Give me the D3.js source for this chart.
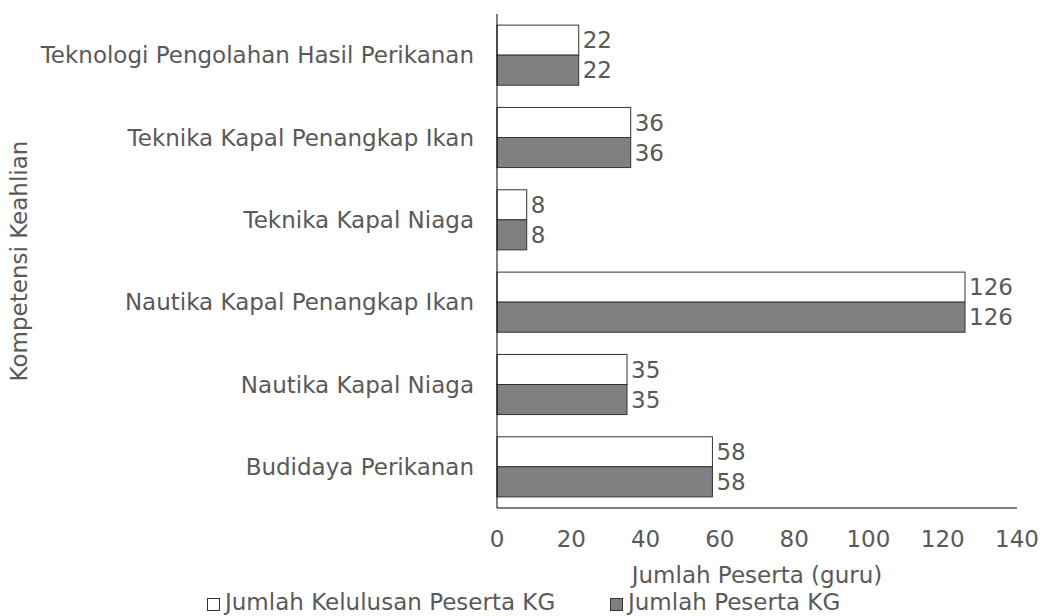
<!DOCTYPE html>
<html><head><meta charset="utf-8">
<script src="https://cdn.jsdelivr.net/npm/d3@7"></script>
<style>body{margin:0;background:#fff}svg text{font-family:"DejaVu Sans",Verdana,sans-serif;fill:#595959}</style>
</head><body>
<svg id="c" width="1040" height="616"></svg>
<script>
const categories = ["Teknologi Pengolahan Hasil Perikanan","Teknika Kapal Penangkap Ikan","Teknika Kapal Niaga","Nautika Kapal Penangkap Ikan","Nautika Kapal Niaga","Budidaya Perikanan"];
const seriesNames = ["Jumlah Kelulusan Peserta KG","Jumlah Peserta KG"];
const kelulusan = [22,36,8,126,35,58];
const peserta = [22,36,8,126,35,58];
const xTicks = [0,20,40,60,80,100,120,140];
const colors = ["#ffffff","#808080"];
const FS = 23;

const svg = d3.select("#c");
const pL = 497, pR = 1017, pT = 14, pB = 508;
const x = d3.scaleLinear().domain([0,140]).range([pL,pR]);
const y = d3.scaleBand().domain(categories).range([pT,pB]).paddingInner(0.27).paddingOuter(0.135);
const sub = d3.scaleBand().domain([0,1]).range([0,y.bandwidth()]);
const series = [kelulusan, peserta];

series.forEach((vals,si)=>{
  const g = svg.append("g");
  g.selectAll("rect").data(vals).join("rect")
    .attr("x", x(0)).attr("y",(d,i)=>y(categories[i])+sub(si))
    .attr("width", d=>x(d)-x(0)).attr("height", sub.bandwidth())
    .attr("fill", colors[si]).attr("stroke","#333").attr("stroke-width",1);
  g.selectAll("text").data(vals).join("text")
    .attr("x", d=>x(d)+4).attr("y",(d,i)=>y(categories[i])+sub(si)+sub.bandwidth()/2)
    .attr("dy","0.36em").attr("font-size",FS).text(d=>d);
});

svg.append("line").attr("x1",pL).attr("x2",pL).attr("y1",pT).attr("y2",pB).attr("stroke","#000").attr("stroke-width",1);
svg.append("line").attr("x1",pL).attr("x2",pR).attr("y1",pB).attr("y2",pB).attr("stroke","#000").attr("stroke-width",1);

svg.append("g").selectAll("text").data(categories).join("text")
  .attr("x", pL-23).attr("y", d=>y(d)+y.bandwidth()/2).attr("dy","0.36em")
  .attr("text-anchor","end").attr("font-size",FS).text(d=>d);

svg.append("g").selectAll("text").data(xTicks).join("text")
  .attr("x", d=>x(d)).attr("y", 547)
  .attr("text-anchor","middle").attr("font-size",FS).text(d=>d);

svg.append("text").attr("x",(pL+pR)/2).attr("y",583)
  .attr("text-anchor","middle").attr("font-size",FS).text("Jumlah Peserta (guru)");
svg.append("text").attr("transform",`translate(19,${(pT+pB)/2}) rotate(-90)`).attr("dy","0.36em")
  .attr("text-anchor","middle").attr("font-size",FS).text("Kompetensi Keahlian");

const legX = [207,610];
seriesNames.forEach((n,i)=>{
  svg.append("rect").attr("x",legX[i]+0.5).attr("y",598.5).attr("width",12).attr("height",12)
    .attr("fill",colors[i]).attr("stroke","#333").attr("stroke-width",1);
  svg.append("text").attr("x",legX[i]+18).attr("y",610).attr("font-size",FS).text(n);
});
</script>
</body></html>
